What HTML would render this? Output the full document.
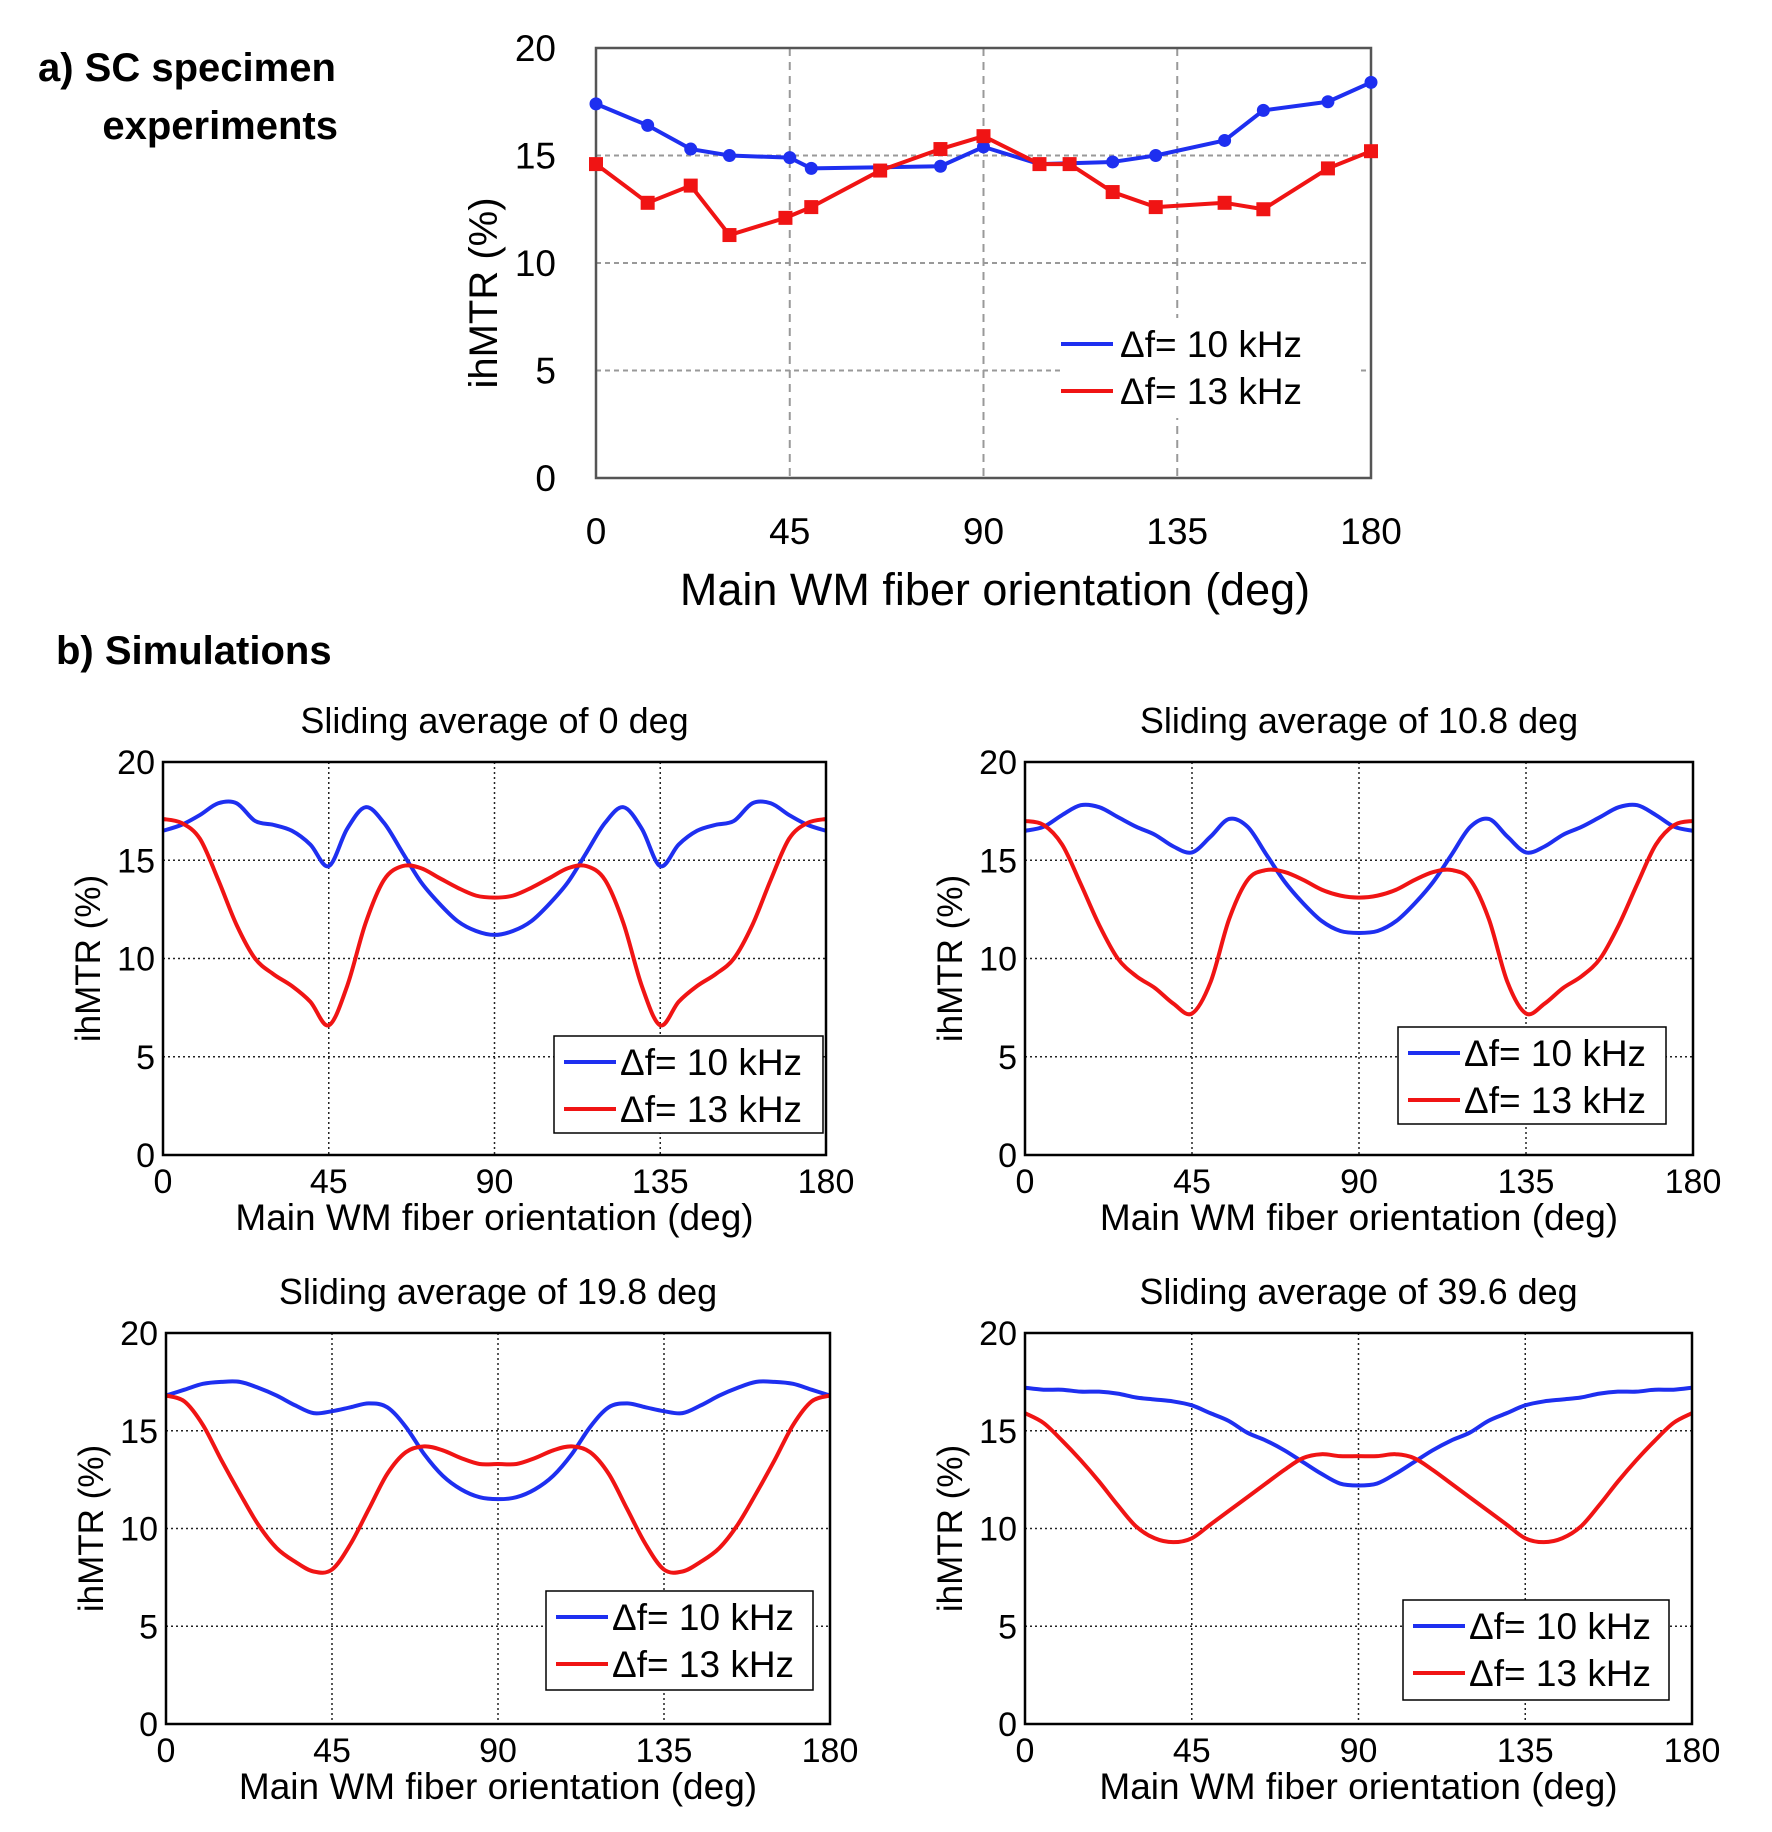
<!DOCTYPE html>
<html><head><meta charset="utf-8"><style>
html,body{margin:0;padding:0;background:#fff;}
svg{display:block;font-family:"Liberation Sans",Arial,sans-serif;}
</style></head><body>
<svg id="fig" width="1772" height="1832" viewBox="0 0 1772 1832" xmlns="http://www.w3.org/2000/svg">
<text x="38" y="81" font-size="40" font-weight="bold">a) SC specimen</text>
<text x="338" y="139" font-size="40" font-weight="bold" text-anchor="end">experiments</text>
<text x="56" y="664" font-size="40" font-weight="bold">b) Simulations</text>
</svg>
<script>
// ---- Panel a data (experiments) ----
const expBlueX = [0,12,22,31,45,50,80,90,103,120,130,146,155,170,180];
const expBlueY = [17.4,16.4,15.3,15.0,14.9,14.4,14.5,15.4,14.6,14.7,15.0,15.7,17.1,17.5,18.4];
const expRedX = [0,12,22,31,44,50,66,80,90,103,110,120,130,146,155,170,180];
const expRedY = [14.6,12.8,13.6,11.3,12.1,12.6,14.3,15.3,15.9,14.6,14.6,13.3,12.6,12.8,12.5,14.4,15.2];
// ---- Panel b data (simulations), angles 0..180 step 5 ----
const simAngles = [0,5,10,15,20,25,30,35,40,45,50,55,60,65,70,75,80,85,90,95,100,105,110,115,120,125,130,135,140,145,150,155,160,165,170,175,180];
const sim0Blue = [16.5,16.8,17.3,17.9,17.9,17.0,16.8,16.5,15.8,14.7,16.6,17.7,16.9,15.4,13.9,12.8,11.9,11.4,11.2,11.4,11.9,12.8,13.9,15.4,16.9,17.7,16.6,14.7,15.8,16.5,16.8,17.0,17.9,17.9,17.3,16.8,16.5];
const sim0Red = [17.1,16.9,16.1,14.0,11.7,10.0,9.2,8.6,7.8,6.6,8.6,11.8,14.0,14.7,14.6,14.1,13.6,13.2,13.1,13.2,13.6,14.1,14.6,14.7,14.0,11.8,8.6,6.6,7.8,8.6,9.2,10.0,11.7,14.0,16.1,16.9,17.1];
const sim1Blue = [16.5,16.7,17.3,17.8,17.7,17.2,16.7,16.3,15.7,15.4,16.2,17.1,16.7,15.3,13.9,12.8,11.9,11.4,11.3,11.4,11.9,12.8,13.9,15.3,16.7,17.1,16.2,15.4,15.7,16.3,16.7,17.2,17.7,17.8,17.3,16.7,16.5];
const sim1Red = [17.0,16.8,15.8,13.8,11.7,10.0,9.1,8.5,7.7,7.2,8.8,12.0,14.0,14.5,14.4,14.0,13.5,13.2,13.1,13.2,13.5,14.0,14.4,14.5,14.0,12.0,8.8,7.2,7.7,8.5,9.1,10.0,11.7,13.8,15.8,16.8,17.0];
const sim2Blue = [16.8,17.1,17.4,17.5,17.5,17.2,16.8,16.3,15.9,16.0,16.2,16.4,16.2,15.2,13.8,12.7,12.0,11.6,11.5,11.6,12.0,12.7,13.8,15.2,16.2,16.4,16.2,16.0,15.9,16.3,16.8,17.2,17.5,17.5,17.4,17.1,16.8];
const sim2Red = [16.8,16.5,15.3,13.5,11.8,10.2,9.0,8.3,7.8,7.9,9.2,11.0,12.8,13.9,14.2,14.0,13.6,13.3,13.3,13.3,13.6,14.0,14.2,13.9,12.8,11.0,9.2,7.9,7.8,8.3,9.0,10.2,11.8,13.5,15.3,16.5,16.8];
const sim3Blue = [17.2,17.1,17.1,17.0,17.0,16.9,16.7,16.6,16.5,16.3,15.9,15.5,14.9,14.5,14.0,13.4,12.8,12.3,12.2,12.3,12.8,13.4,14.0,14.5,14.9,15.5,15.9,16.3,16.5,16.6,16.7,16.9,17.0,17.0,17.1,17.1,17.2];
const sim3Red = [15.9,15.4,14.5,13.5,12.4,11.2,10.1,9.5,9.3,9.5,10.2,10.9,11.6,12.3,13.0,13.6,13.8,13.7,13.7,13.7,13.8,13.6,13.0,12.3,11.6,10.9,10.2,9.5,9.3,9.5,10.1,11.2,12.4,13.5,14.5,15.4,15.9];
const xTicks = [0,45,90,135,180];
const yTicks = [0,5,10,15,20];
const simTitles = ["Sliding average of 0 deg","Sliding average of 10.8 deg","Sliding average of 19.8 deg","Sliding average of 39.6 deg"];
const legendLabels = ["\u0394f= 10 kHz","\u0394f= 13 kHz"];

const NS="http://www.w3.org/2000/svg";
const svg=document.getElementById('fig');
function mk(tag,attrs,parent){const e=document.createElementNS(NS,tag);for(const k in attrs)e.setAttribute(k,attrs[k]);(parent||svg).appendChild(e);return e;}
function smoothPath(pts){let d=`M${pts[0][0]},${pts[0][1]}`;for(let i=0;i<pts.length-1;i++){const p0=pts[Math.max(0,i-1)],p1=pts[i],p2=pts[i+1],p3=pts[Math.min(pts.length-1,i+2)];const c1x=p1[0]+(p2[0]-p0[0])/6,c1y=p1[1]+(p2[1]-p0[1])/6,c2x=p2[0]-(p3[0]-p1[0])/6,c2y=p2[1]-(p3[1]-p1[1])/6;d+=` C${c1x},${c1y} ${c2x},${c2y} ${p2[0]},${p2[1]}`;}return d;}

// ---------- Panel a ----------
(function(){
const L=596,R=1371,T=48,B=478;
const sx=v=>L+(R-L)*v/180, sy=v=>B-(B-T)*v/20;
const g=mk('g',{});


yTicks.forEach(v=>{ if(v>0&&v<20){const ln=mk('line',{x1:L,x2:R,y1:sy(v),y2:sy(v),stroke:'#999','stroke-width':2,'stroke-dasharray':'5,4'},g);}
 const t=mk('text',{x:556,y:sy(v)+13,'font-size':37,'text-anchor':'end'},g);t.textContent=v;});
xTicks.forEach(v=>{ if(v>0&&v<180){const ln=mk('line',{x1:sx(v),x2:sx(v),y1:T,y2:B,stroke:'#999','stroke-width':2,'stroke-dasharray':'8,6'},g);}
 const t=mk('text',{x:sx(v),y:544,'font-size':37,'text-anchor':'middle'},g);t.textContent=v;});
const lb=mk('rect',{x:1060,y:318,width:300,height:100,fill:'#fff'},g);

const fr=mk('rect',{x:L,y:T,width:R-L,height:B-T,fill:'none',stroke:'#555','stroke-width':2.5},g);

const series=[[expBlueX,expBlueY,'#1e2ff0','circle'],[expRedX,expRedY,'#f01414','square']];
series.forEach((s,si)=>{
 const pts=s[0].map((x,i)=>[sx(x),sy(s[1][i])]);
 const p=mk('polyline',{points:pts.map(q=>q.join(',')).join(' '),fill:'none',stroke:s[2],'stroke-width':4,'stroke-linejoin':'round'},g);
 
 pts.forEach(q=>{let m;
  if(s[3]==='circle'){m=mk('circle',{cx:q[0],cy:q[1],r:6.5,fill:s[2]},g);}
  else{m=mk('rect',{x:q[0]-7,y:q[1]-7,width:14,height:14,fill:s[2]},g);}
  });
});
legendLabels.forEach((lab,i)=>{const y=344+i*47;
 const ln=mk('line',{x1:1061,x2:1113,y1:y,y2:y,stroke:i?'#f01414':'#1e2ff0','stroke-width':4},g);
 const t=mk('text',{x:1120,y:y+13,'font-size':37},g);t.textContent=lab;});
const yt=mk('text',{x:0,y:0,'font-size':40,'text-anchor':'middle',transform:'translate(497,293) rotate(-90)'},g);yt.textContent='ihMTR (%)';
const xt=mk('text',{x:995,y:605,'font-size':45,'text-anchor':'middle'},g);xt.textContent='Main WM fiber orientation (deg)';
})();

// ---------- Panel b ----------
const simPanels=[
 {L:163,R:826,T:762,B:1155,blue:sim0Blue,red:sim0Red,title:simTitles[0],lg:[554,1036,269,97]},
 {L:1025,R:1693,T:762,B:1155,blue:sim1Blue,red:sim1Red,title:simTitles[1],lg:[1398,1027,268,97]},
 {L:166,R:830,T:1333,B:1724,blue:sim2Blue,red:sim2Red,title:simTitles[2],lg:[546,1591,267,99]},
 {L:1025,R:1692,T:1333,B:1724,blue:sim3Blue,red:sim3Red,title:simTitles[3],lg:[1403,1600,266,100]}];
simPanels.forEach((P,pi)=>{
 const sx=v=>P.L+(P.R-P.L)*v/180, sy=v=>P.B-(P.B-P.T)*v/20;
 const g=mk('g',{});
 
 
 yTicks.forEach(v=>{ if(v>0&&v<20){const ln=mk('line',{x1:P.L,x2:P.R,y1:sy(v),y2:sy(v),stroke:'#222','stroke-width':1.5,'stroke-dasharray':'2,3'},g);}
  const t=mk('text',{x:P.L-8,y:sy(v)+12,'font-size':34,'text-anchor':'end'},g);t.textContent=v;});
 xTicks.forEach(v=>{ if(v>0&&v<180){const ln=mk('line',{x1:sx(v),x2:sx(v),y1:P.T,y2:P.B,stroke:'#222','stroke-width':1.5,'stroke-dasharray':'2,3'},g);}
  const t=mk('text',{x:sx(v),y:P.B+38,'font-size':34,'text-anchor':'middle'},g);t.textContent=v;});
 [[P.blue,'#1e2ff0','series-10khz-line'],[P.red,'#f01414','series-13khz-line']].forEach(s=>{
  const pts=simAngles.map((a,i)=>[sx(a),sy(s[0][i])]);
  const p=mk('path',{d:smoothPath(pts),fill:'none',stroke:s[1],'stroke-width':4,'stroke-linejoin':'round'},g);
  });
 const fr=mk('rect',{x:P.L,y:P.T,width:P.R-P.L,height:P.B-P.T,fill:'none',stroke:'#000','stroke-width':2.5},g);
 
 const [lx,ly,lw,lh]=P.lg;
 const lb=mk('rect',{x:lx,y:ly,width:lw,height:lh,fill:'#fff',stroke:'#000','stroke-width':1.5},g);
 
 legendLabels.forEach((lab,i)=>{const y=ly+26+i*47;
  const ln=mk('line',{x1:lx+10,x2:lx+62,y1:y,y2:y,stroke:i?'#f01414':'#1e2ff0','stroke-width':4},g);
  const t=mk('text',{x:lx+66,y:y+13,'font-size':37},g);t.textContent=lab;});
 const cx=(P.L+P.R)/2;
 const tt=mk('text',{x:cx,y:P.T-29,'font-size':36,'text-anchor':'middle'},g);tt.textContent=P.title;
 const xt=mk('text',{x:cx,y:P.B+75,'font-size':37,'text-anchor':'middle'},g);xt.textContent='Main WM fiber orientation (deg)';
 const yt=mk('text',{x:0,y:0,'font-size':35,'text-anchor':'middle',transform:`translate(${P.L-63},${(P.T+P.B)/2}) rotate(-90)`},g);yt.textContent='ihMTR (%)';
});
</script>
</body></html>
